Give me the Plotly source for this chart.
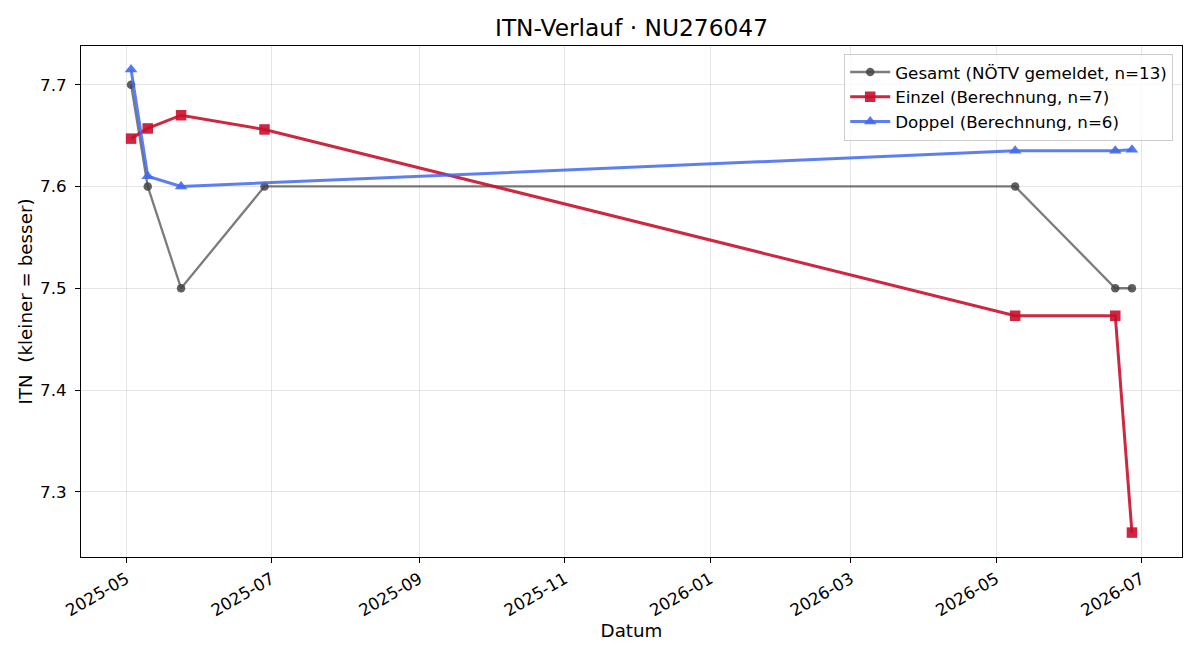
import plotly.graph_objects as go

title = "ITN-Verlauf · NU276047"

gesamt_dates = ["2025-05-03", "2025-05-10", "2025-05-24", "2025-06-28", "2026-05-09", "2026-06-20", "2026-06-27"]
gesamt_vals = [7.70, 7.60, 7.50, 7.60, 7.60, 7.50, 7.50]

einzel_dates = ["2025-05-03", "2025-05-10", "2025-05-24", "2025-06-28", "2026-05-09", "2026-06-20", "2026-06-27"]
einzel_vals = [7.647, 7.657, 7.670, 7.656, 7.473, 7.473, 7.260]

doppel_dates = ["2025-05-03", "2025-05-10", "2025-05-24", "2026-05-09", "2026-06-20", "2026-06-27"]
doppel_vals = [7.715, 7.610, 7.600, 7.635, 7.635, 7.636]

names = ["Gesamt (NÖTV gemeldet, n=13)", "Einzel (Berechnung, n=7)", "Doppel (Berechnung, n=6)"]
y_ticks = [7.3, 7.4, 7.5, 7.6, 7.7]
x_ticks = ["2025-05-01", "2025-07-01", "2025-09-01", "2025-11-01", "2026-01-01", "2026-03-01", "2026-05-01", "2026-07-01"]
x_ticklabels = ["2025-05", "2025-07", "2025-09", "2025-11", "2026-01", "2026-03", "2026-05", "2026-07"]

FONT = "DejaVu Sans, Liberation Sans, sans-serif"

fig = go.Figure()
fig.add_trace(go.Scatter(
    x=gesamt_dates, y=gesamt_vals, name=names[0], mode="lines+markers",
    line=dict(color="rgba(68,68,68,0.7)", width=2.3),
    marker=dict(symbol="circle", size=8.5, color="rgba(68,68,68,0.85)"),
))
fig.add_trace(go.Scatter(
    x=einzel_dates, y=einzel_vals, name=names[1], mode="lines+markers",
    line=dict(color="rgba(200,16,46,0.9)", width=3),
    marker=dict(symbol="square", size=10.5, color="rgba(200,16,46,0.9)"),
))
fig.add_trace(go.Scatter(
    x=doppel_dates, y=doppel_vals, name=names[2], mode="lines+markers",
    line=dict(color="rgba(65,105,240,0.85)", width=3),
    marker=dict(symbol="triangle-up", size=11, color="rgba(65,105,240,0.9)"),
))

fig.update_layout(
    width=1200, height=660,
    margin=dict(l=81, r=18, t=46, b=103),
    paper_bgcolor="white", plot_bgcolor="white",
    font=dict(family=FONT, size=16.7, color="black"),
    title=dict(text=title, x=0.5, xref="paper", xanchor="center", y=1 - 28 / 660, yanchor="middle",
               font=dict(size=23.3, family=FONT)),
    showlegend=True,
    legend=dict(x=0.992, xanchor="right", y=0.985, yanchor="top",
                bgcolor="rgba(255,255,255,0.8)", bordercolor="#cccccc", borderwidth=1,
                font=dict(size=16.7, family=FONT), tracegroupgap=0, itemwidth=40),
)
fig.update_xaxes(
    type="date", range=["2025-04-12", "2026-07-18"], automargin=False,
    tickvals=x_ticks, ticktext=x_ticklabels, tickangle=-30,
    tickfont=dict(size=16.7, family=FONT),
    showgrid=True, gridcolor="rgba(0,0,0,0.1)", gridwidth=1,
    showline=True, linecolor="black", linewidth=1, mirror=True,
    ticks="outside", ticklen=5, tickcolor="black", zeroline=False,
    title=dict(text="Datum", font=dict(size=18.3, family=FONT), standoff=4),
)
fig.update_yaxes(
    range=[7.236, 7.738], tickvals=y_ticks, ticktext=[f"{v:.1f}" for v in y_ticks], automargin=False,
    tickfont=dict(size=16.7, family=FONT), ticklabelstandoff=5,
    showgrid=True, gridcolor="rgba(0,0,0,0.1)", gridwidth=1,
    showline=True, linecolor="black", linewidth=1, mirror=True,
    ticks="outside", ticklen=5, tickcolor="black", zeroline=False,
    title=dict(text="ITN\u00a0\u00a0(kleiner = besser)", font=dict(size=18.3, family=FONT), standoff=2),
)

fig.write_html("out.html")
